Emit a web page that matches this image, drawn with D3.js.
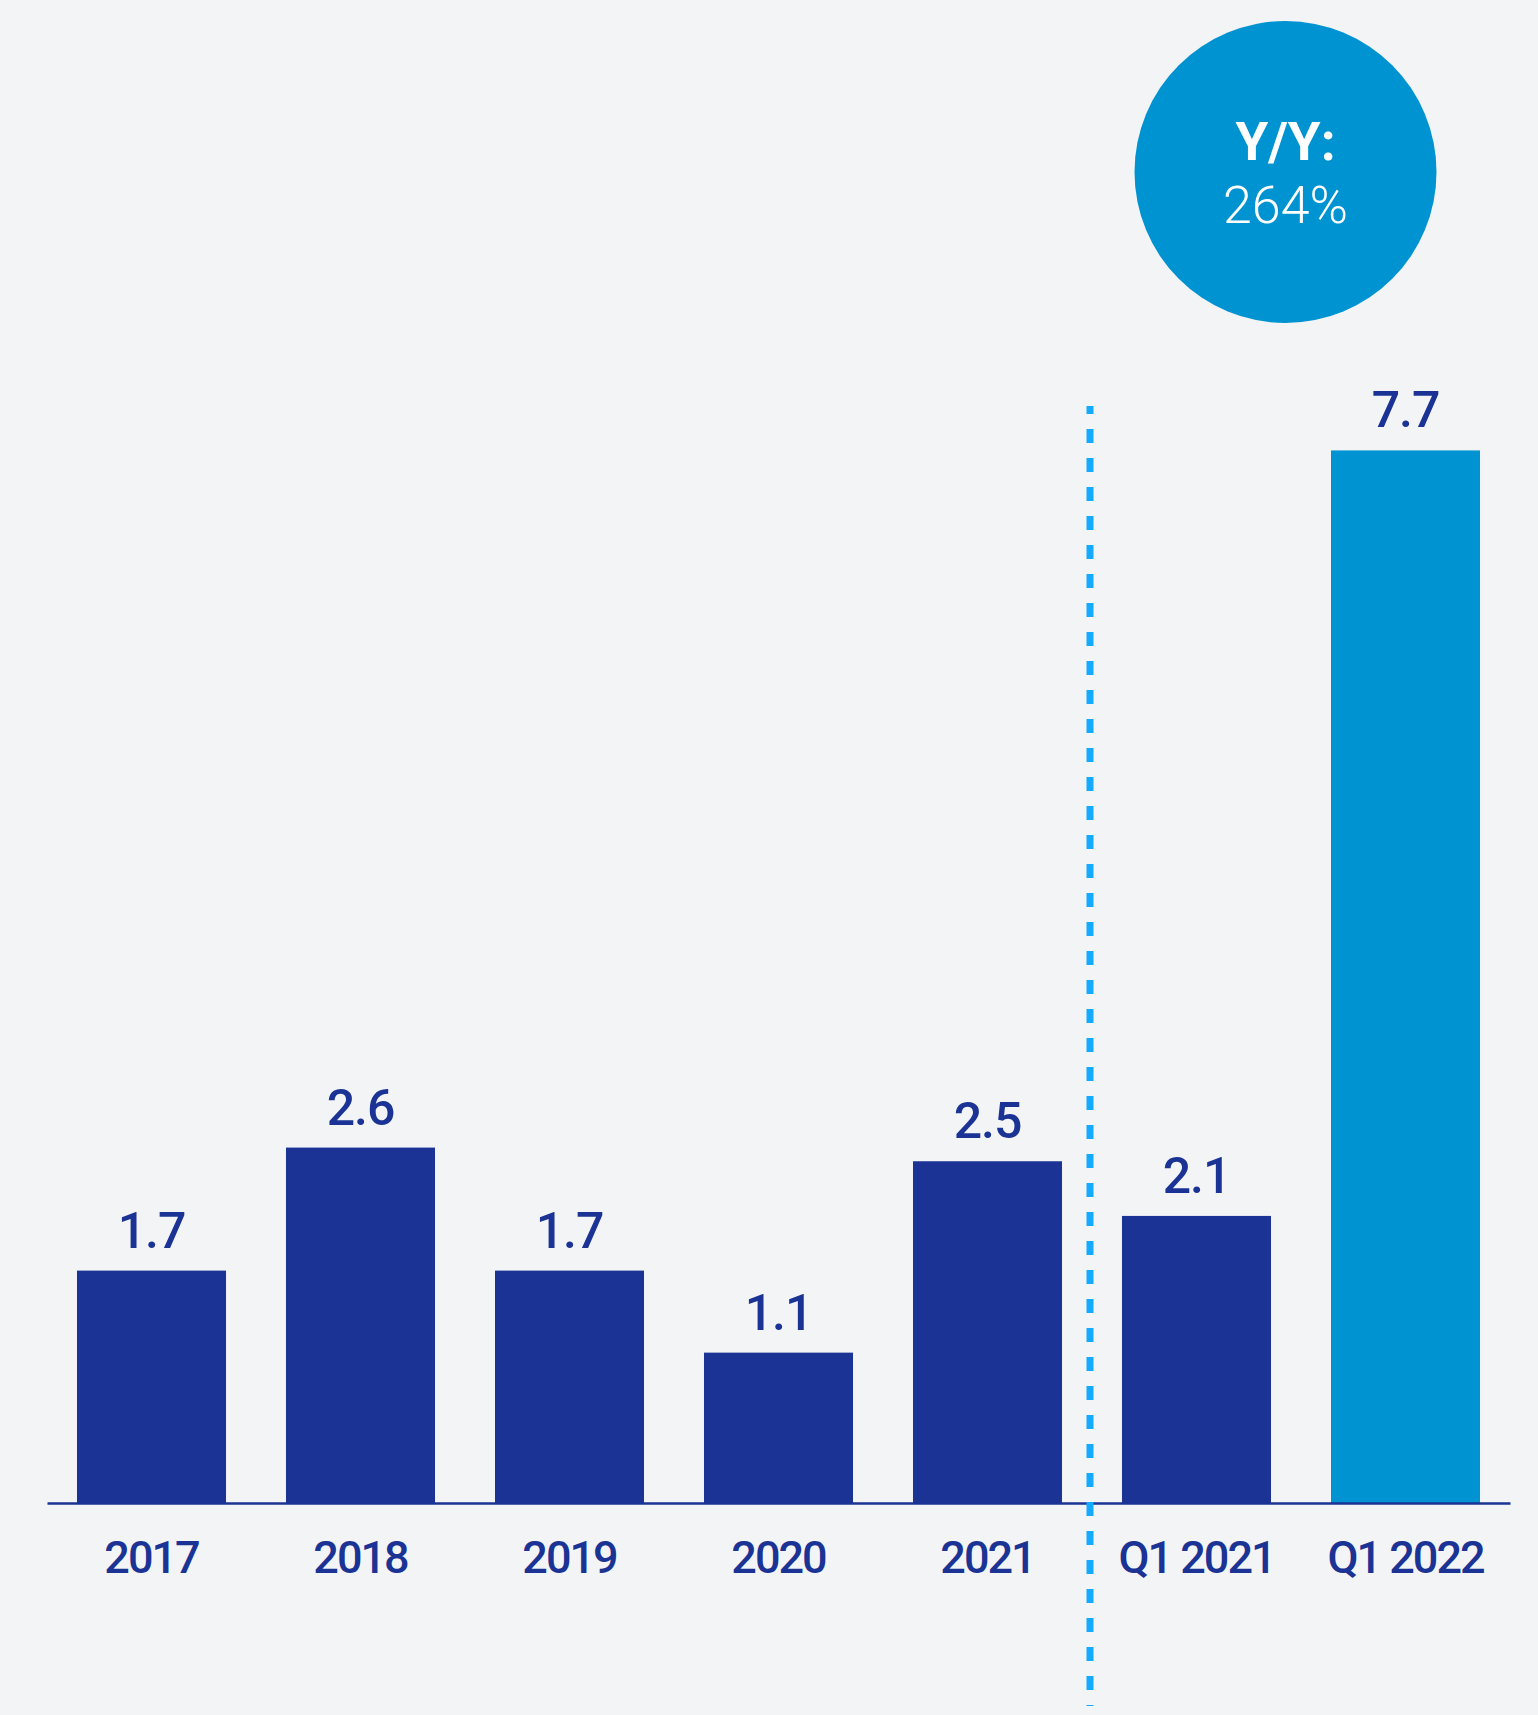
<!DOCTYPE html>
<html>
<head>
<meta charset="utf-8">
<script src="https://cdn.jsdelivr.net/npm/d3@7"></script>
<style>
  html, body { margin: 0; padding: 0; background: #F3F4F6; }
  svg { display: block; font-family: Roboto, "Noto Sans", sans-serif; }
</style>
</head>
<body>
<svg id="chart" width="1538" height="1715"></svg>
<script>
// Periods shown on the x axis
const categories = ["2017", "2018", "2019", "2020", "2021", "Q1 2021", "Q1 2022"];
// Values per period
const values = [1.7, 2.6, 1.7, 1.1, 2.5, 2.1, 7.7];
// Value label text per bar
const valueLabels = ["1.7", "2.6", "1.7", "1.1", "2.5", "2.1", "7.7"];
// Growth callout
const calloutTitle = "Y/Y:";
const calloutValue = "264%";

const navy = "#1A3394";
const blue = "#0093D2";
const dashBlue = "#13AAFF";

const svg = d3.select("#chart");
const baseY = 1503;

const x = d3.scaleBand()
  .domain(categories)
  .range([47, 1510])
  .paddingInner(0.287)
  .paddingOuter(0.1435);

const y = d3.scaleLinear()
  .domain([0, 10])
  .range([baseY, baseY - 1367]);

const data = categories.map((c, i) => ({ cat: c, value: values[i], label: valueLabels[i] }));

// Bars
svg.append("g")
  .selectAll("rect")
  .data(data)
  .join("rect")
  .attr("x", d => x(d.cat))
  .attr("y", d => y(d.value))
  .attr("width", x.bandwidth())
  .attr("height", d => y(0) - y(d.value))
  .attr("fill", d => d.cat === "Q1 2022" ? blue : navy);

// Value labels
svg.append("g")
  .selectAll("text")
  .data(data)
  .join("text")
  .attr("x", d => x(d.cat) + x.bandwidth() / 2)
  .attr("y", d => y(d.value) - 23)
  .attr("text-anchor", "middle")
  .attr("font-size", 50)
  .attr("font-weight", 500)
  .attr("letter-spacing", -1)
  .attr("fill", navy)
  .text(d => d.label);

// Baseline axis
const axis = svg.append("g")
  .attr("transform", `translate(0,${baseY})`)
  .call(d3.axisBottom(x).tickSize(0).tickPadding(70));
axis.select(".domain").attr("stroke", navy).attr("stroke-width", 2.5);
axis.selectAll(".tick text")
  .attr("font-family", "Roboto, sans-serif")
  .attr("font-size", 45)
  .attr("font-weight", 500)
  .attr("letter-spacing", -2)
  .attr("fill", navy)
  .attr("dy", null)
  .attr("y", 70);

// Divider between annual and quarterly figures
const step = x.step();
const dividerX = x("Q1 2021") - (step - x.bandwidth()) / 2 - 2;
svg.append("line")
  .attr("x1", dividerX).attr("x2", dividerX)
  .attr("y1", 406).attr("y2", 1706)
  .attr("stroke", dashBlue)
  .attr("stroke-width", 7)
  .attr("stroke-dasharray", "14 15")
  .attr("stroke-dashoffset", 6);

// Growth callout bubble
const cx = x("Q1 2022") + x.bandwidth() / 2 - 120;
const callout = svg.append("g").attr("transform", `translate(${cx},172)`);
callout.append("circle").attr("r", 151).attr("fill", blue);
callout.append("text")
  .attr("y", -12)
  .attr("text-anchor", "middle")
  .attr("font-size", 53)
  .attr("font-weight", 700)
  .attr("fill", "#fff")
  .text(calloutTitle);
callout.append("text")
  .attr("y", 51)
  .attr("text-anchor", "middle")
  .attr("font-size", 52)
  .attr("font-weight", 300)
  .attr("fill", "#fff")
  .text(calloutValue);
</script>
</body>
</html>
